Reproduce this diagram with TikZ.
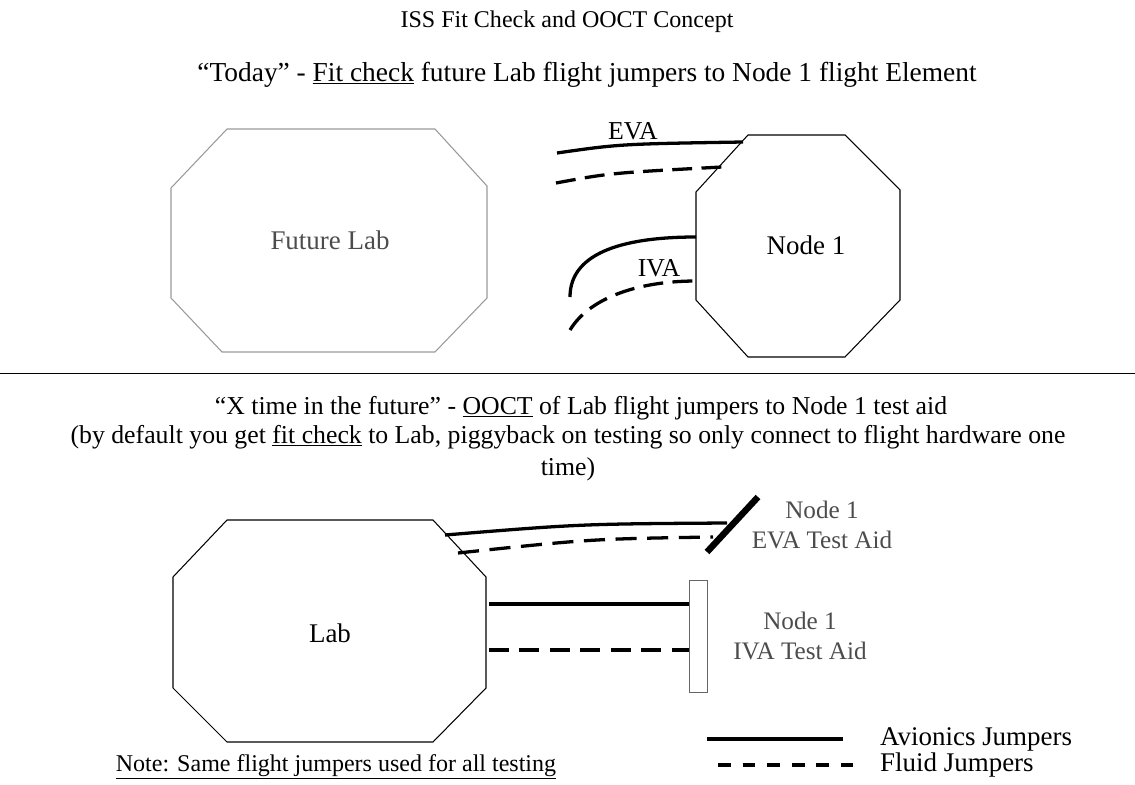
\documentclass[tikz,border=0pt]{standalone}
\usepackage{fontspec}
\setmainfont{Liberation Serif}
\usetikzlibrary{positioning}

\begin{document}
\begin{tikzpicture}[x=0.03cm, y=-0.03cm,
    every node/.style={inner sep=0pt, font=\fontsize{22}{23}\selectfont},
    label/.style={font=\fontsize{23}{27}\selectfont},
    module/.style={draw, line width=0.9pt},
    avionics/.style={line width=2.8pt},
    fluid/.style={line width=2.8pt, dash pattern=on 17pt off 8pt},
    faded/.style={text=black!70}]
    \useasboundingbox (0,0) rectangle (1135,785);

    % Headings
    \node (title) [font=\fontsize{20.5}{24}\selectfont] at (567,22) {ISS Fit Check and OOCT Concept};
    \node (today) [font=\fontsize{23.4}{27}\selectfont] at (587,75)
        {“Today” - \underline{Fit check} future Lab flight jumpers to Node 1 flight Element};

    % Future Lab module
    \draw[module, draw=black!40] (227,129) -- (435,129) -- (487,186) -- (487,298) -- (435,352)
        -- (222,352) -- (171,298) -- (171,188) -- cycle;
    \node (futurelab) [label, faded] at (330,240) {Future Lab};

    % Node 1 flight element
    \draw[module] (748,135) -- (845,135) -- (900,190) -- (900,300) -- (845,357)
        -- (748,357) -- (696,300) -- (696,192) -- cycle;
    \node (node1) [label] at (806,245) {Node 1};
    \coordinate (evaA) at (743,142);
    \coordinate (evaF) at (722,167);
    \coordinate (ivaA) at (696,237);
    \coordinate (ivaF) at (696,281);

    % Jumpers hanging in free space
    \coordinate (evaAend) at (557,153);
    \coordinate (evaFend) at (556,183);
    \coordinate (ivaAend) at (570,297);
    \coordinate (ivaFend) at (570,330);
    \draw[avionics] (evaAend) .. controls (620,144) .. (evaA);
    \draw[fluid] (evaFend) .. controls (610,173) .. (evaF);
    \draw[avionics] (ivaAend) .. controls (570,250) and (630,237) .. (ivaA);
    \draw[fluid] (ivaFend) .. controls (590,297) and (640,281) .. (ivaF);
    \node (evalabel) at (633,131) {EVA};
    \node (ivalabel) at (659,268) {IVA};

    % Divider
    \draw[line width=0.8pt] (0,373) -- (1135,373);

    \node (future) at (581,408) {“X time in the future” - \underline{OOCT} of Lab flight jumpers to Node 1 test aid};
    \node (default) [align=center, anchor=north, font=\fontsize{22}{27}\selectfont] at (568,425)
        {(by default you get \underline{fit check} to Lab, piggyback on testing so only connect to flight hardware one\\time)};

    % Lab module
    \draw[module] (227,520) -- (433,520) -- (486,577) -- (486,688) -- (433,742)
        -- (227,742) -- (173,688) -- (173,577) -- cycle;
    \node (lab) [label] at (330,633) {Lab};

    % Node 1 test aids
    \draw[line width=5.5pt, line cap=butt] (758,497) -- (707,552);
    \coordinate (aidA) at (727,523);
    \coordinate (aidF) at (713,537);
    \node (evaaid) [faded, align=center, font=\fontsize{21.5}{25}\selectfont] at (822,525) {Node 1\\EVA Test Aid};
    \node (ivaaid) [draw=black!60, line width=0.6pt, minimum width=18*0.03cm,
        minimum height=112*0.03cm] at (698,636) {};
    \node (ivalabel2) [faded, align=center, font=\fontsize{21.5}{25}\selectfont] at (800,636) {Node 1\\IVA Test Aid};

    % Jumpers from Lab to test aids
    \coordinate (labA) at (445,535);
    \coordinate (labF) at (458,553);
    \draw[avionics] (labA) .. controls (580,524) .. (aidA);
    \draw[fluid, dash pattern=on 18pt off 9pt] (labF) .. controls (590,539) .. (aidF);
    \draw[avionics] (489,604) -- (ivaaid.west |- 0,604);
    \draw[fluid, dash pattern=on 17pt off 9pt] (489,650) -- (ivaaid.west |- 0,650);

    % Legend
    \coordinate (legA) at (707,739);
    \coordinate (legF) at (718,765);
    \node (avionicslabel) [label, anchor=west] at (880,739) {Avionics Jumpers};
    \node (fluidlabel) [label, anchor=west] at (880,765) {Fluid Jumpers};
    \draw[avionics] (legA) -- (843,739);
    \draw[fluid, dash pattern=on 11pt off 10pt] (legF) -- (853,765);

    \node (note) [font=\fontsize{20.5}{24}\selectfont] at (336,767) {\underline{Note: Same flight jumpers used for all testing}};
\end{tikzpicture}
\end{document}
